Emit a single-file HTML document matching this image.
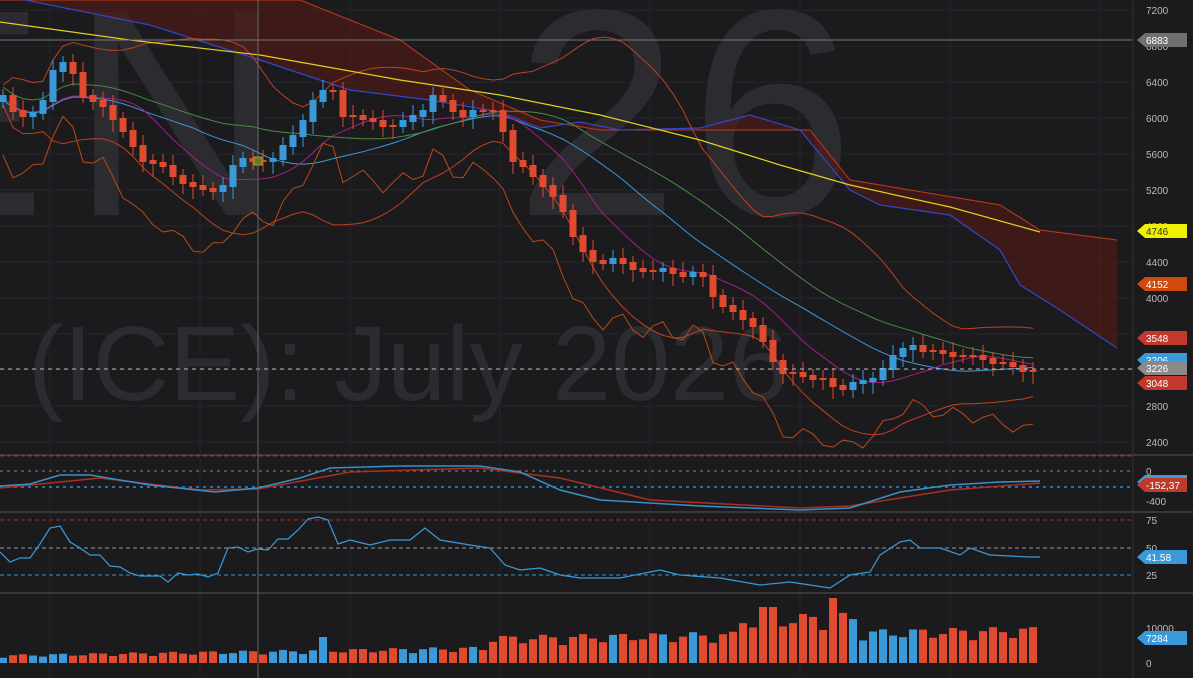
<!DOCTYPE html>
<html><head><meta charset="utf-8"><style>
html,body{margin:0;padding:0;background:#1b1b1e;overflow:hidden}
svg{display:block}
text{font-family:"Liberation Sans",sans-serif}
</style></head><body>
<svg id="s" width="1193" height="678" viewBox="0 0 1193 678" xmlns="http://www.w3.org/2000/svg">
<rect width="1193" height="678" fill="#1b1b1e"/>
<g id="grid"></g>
<g font-size="295" fill="#2b2b30">
<text x="-150" y="215">E</text><text x="70" y="215">N</text><text x="515" y="215">2</text><text x="690" y="215">6</text>
</g>
<text x="28" y="400" font-size="106" fill="#2b2b30">(ICE): July 2026</text>
<g id="g"></g>
</svg>
<script>
const NS="http://www.w3.org/2000/svg";
const g=document.getElementById('g'),gr=document.getElementById('grid');
function el(t,a,p){const e=document.createElementNS(NS,t);for(const k in a)e.setAttribute(k,a[k]);(p||g).appendChild(e);return e;}
function pl(pts,c,w,extra){const a={points:pts.map(p=>p[0]+','+p[1]).join(' '),fill:'none',stroke:c,'stroke-width':w||1};Object.assign(a,extra||{});return el('polyline',a);}
for(let x=50;x<1130;x+=150)el('line',{x1:x,y1:0,x2:x,y2:678,stroke:'#26262a'},gr);
for(let p=2400;p<=7200;p+=400){const y=10+(7200-p)*0.09;el('line',{x1:0,y1:y,x2:1133,y2:y,stroke:'#26262a'},gr);}
const C=[95,110,115,112,100,70,62,72,95,100,105,118,130,145,160,162,165,175,182,185,188,190,185,165,158,160,160,158,145,135,120,100,90,90,115,115,118,120,125,125,120,115,110,95,100,110,115,110,110,110,130,160,165,175,185,195,210,235,250,260,262,258,262,268,270,270,268,272,275,272,275,295,305,310,318,325,340,360,372,372,375,378,378,385,388,382,380,378,368,355,348,345,350,350,352,355,355,355,358,362,362,365,370,370];
const N=C.length,X=i=>3+i*10;
const cloudTop=[[0,0],[300,0],[400,40],[470,90],[540,120],[600,130],[810,130],[850,180],[1000,205],[1040,230],[1117,240]];
const blueL=[[0,-5],[150,25],[260,60],[350,90],[430,100],[500,112],[540,128],[580,122],[620,130],[700,128],[750,115],[800,130],[850,190],[880,205],[950,215],[1000,250],[1020,285],[1060,310],[1117,348]];
el('polygon',{points:cloudTop.concat(blueL.slice().reverse()).map(p=>p.join(',')).join(' '),fill:'#5a1a14',opacity:0.55});
pl(cloudTop,'#c0391c',1);pl(blueL,'#3048c8',1.2);
function ma(n){return C.map((v,i)=>{let s=0,k=0;for(let j=Math.max(0,i-n+1);j<=i;j++){s+=C[j];k++;}return s/k;});}
function sd(n,m){return C.map((v,i)=>{let s=0,k=0;for(let j=Math.max(0,i-n+1);j<=i;j++){s+=(C[j]-m[i])**2;k++;}return Math.sqrt(s/k);});}
const m20=ma(20),s20=sd(20,m20),m10=ma(10),m26=ma(26);
pl(m20.map((v,i)=>[X(i),v+5]),'#3a9ad9',1);
pl(m10.map((v,i)=>[X(i),v+4]),'#a0208a',1);
pl(m26.map((v,i)=>[X(i),v-8]),'#4a8a40',1);
pl(m20.map((v,i)=>[X(i),v-2*s20[i]-10]),'#c04020',1);
pl(m20.map((v,i)=>[X(i),v+2*s20[i]+10]),'#c04020',1);
pl(C.map((v,i)=>[X(i),v+60+8*Math.sin(i*1.7)]),'#b84a18',1);
pl([[0,22],[130,40],[260,55],[400,80],[500,95],[600,115],[700,140],[780,165],[850,185],[950,207],[1040,232]],'#e0d020',1.2);
for(let i=0;i<N;i++){const o=i?C[i-1]:C[i]+5,c=C[i];const up=c<o;const col=up?'#3a9ad9':'#e04a2f';
const t=Math.min(o,c),b=Math.max(o,c)+2;el('line',{x1:X(i),x2:X(i),y1:t-6-(i%3)*2,y2:b+6+(i%4)*2,stroke:col});
el('rect',{x:X(i)-3.5,y:t,width:7,height:Math.max(2,b-t),fill:col});}
el('line',{x1:0,y1:40,x2:1133,y2:40,stroke:'#777'});
el('line',{x1:0,y1:369,x2:1133,y2:369,stroke:'#bbb','stroke-dasharray':'4,4'});
[455,512,593].forEach(y=>el('line',{x1:0,y1:y,x2:1193,y2:y,stroke:'#555'}));
el('line',{x1:1133,y1:0,x2:1133,y2:678,stroke:'#333'});
el('line',{x1:0,y1:456,x2:1133,y2:456,stroke:'#c02020','stroke-dasharray':'4,3'});
el('line',{x1:0,y1:471,x2:1133,y2:471,stroke:'#888','stroke-dasharray':'3,4'});
el('line',{x1:0,y1:487,x2:1133,y2:487,stroke:'#2f6fa0','stroke-dasharray':'3,4','stroke-width':2});
pl([[0,488],[100,478],[200,490],[258,489],[350,472],[480,468],[560,478],[650,500],[800,508],[850,506],[950,490],[1040,483]],'#a83020',1.5);
pl([[0,486],[30,484],[60,475],[90,475],[150,485],[215,492],[258,488],[300,478],[330,468],[400,466],[480,466],[520,472],[560,490],[600,500],[700,506],[800,510],[850,508],[900,492],[950,485],[1000,482],[1040,481]],'#3a8fc8',1.5);
el('line',{x1:0,y1:520,x2:1133,y2:520,stroke:'#c02020','stroke-dasharray':'4,3'});
el('line',{x1:0,y1:548,x2:1133,y2:548,stroke:'#999','stroke-dasharray':'4,3'});
el('line',{x1:0,y1:575,x2:1133,y2:575,stroke:'#3a8fc8','stroke-dasharray':'4,3'});
pl([[0,552],[10,562],[20,558],[30,558],[40,544],[50,528],[60,526],[70,542],[80,548],[90,555],[100,555],[110,566],[120,567],[130,573],[140,576],[150,576],[160,576],[168,582],[178,573],[188,575],[198,574],[208,577],[218,573],[228,548],[238,547],[248,552],[258,549],[268,550],[278,539],[288,539],[298,530],[308,519],[318,517],[328,520],[338,544],[350,540],[370,545],[390,540],[410,540],[425,528],[440,540],[470,545],[490,548],[505,565],[520,570],[540,568],[560,575],[580,578],[620,578],[660,570],[680,575],[720,578],[760,585],[790,582],[810,585],[830,588],[850,575],[870,572],[880,555],[900,542],[910,540],[920,548],[940,548],[960,555],[970,548],[990,555],[1010,556],[1030,557],[1040,557]],'#3a9ad9',1.2);
for(let i=0;i<N;i++){const o=i?C[i-1]:C[i]+5,up=C[i]<o;const col=up?'#3a9ad9':'#e04a2f';
let base=7+i*0.14+(i>48?9:0)+(i>73&&i<86?14:0);let h=base*(0.75+0.45*Math.abs(Math.sin(i*2.3)));if(i===83)h=65;if(i===76||i===77)h=56;if(i===32)h=26;
el('rect',{x:X(i)-4,y:663-h,width:8,height:h,fill:col});}
el('line',{x1:258,y1:0,x2:258,y2:678,stroke:'#666'});
el('rect',{x:254,y:157,width:8,height:8,fill:'#6a7a20',stroke:'#a0a030'});
function lab(t,y,c){el('text',{x:1146,y:y+4,'font-size':10,fill:c||'#bbb'}).textContent=t;}
[7200,6800,6400,6000,5600,5200,4800,4400,4000,3600,3200,2800,2400].forEach(p=>lab(p,10+(7200-p)*0.09));
lab('0',471);lab('-400',501);lab('75',520);lab('50',548);lab('25',575);lab('10000',628);lab('0',663);
function tag(t,y,bg,fg){el('polygon',{points:`1137,${y} 1145,${y-7} 1187,${y-7} 1187,${y+7} 1145,${y+7}`,fill:bg});el('text',{x:1146,y:y+4,'font-size':10,fill:fg||'#fff'}).textContent=t;}
tag('6883',40,'#707070');tag('4746',231,'#f0f000','#333');tag('4152',284,'#d04a10');tag('3548',338,'#c0392b');
tag('3206',360,'#3a9ad9');tag('3226',368,'#8a8a8a');tag('3048',383,'#c0392b');
tag('',482,'#3a9ad9');tag('-152,37',485,'#c0392b');tag('41.58',557,'#3a9ad9');tag('7284',638,'#3a9ad9');
</script>
</body></html>
